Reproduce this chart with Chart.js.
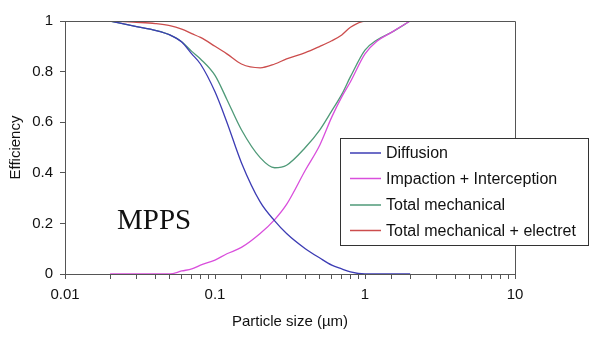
<!DOCTYPE html>
<html>
<head>
<meta charset="utf-8">
<script src="https://cdn.jsdelivr.net/npm/chart.js@4"></script>
<style>
  html, body { margin: 0; padding: 0; background: #fff; }
  #wrap { width: 600px; height: 342px; position: relative; }
</style>
</head>
<body>
<div id="wrap"><canvas id="mainChart" width="600" height="342"></canvas></div>
<script>
// particle diameters (µm)
const sizes = [0.02, 0.03, 0.04, 0.05, 0.06, 0.07, 0.08, 0.1, 0.12, 0.15, 0.2, 0.25, 0.3, 0.4, 0.5, 0.6, 0.7, 0.8, 1, 1.2, 1.5, 2];

const diffusion   = [1.0, 0.978, 0.963, 0.945, 0.917, 0.87, 0.83, 0.72, 0.60, 0.44, 0.285, 0.21, 0.16, 0.10, 0.063, 0.035, 0.02, 0.008, 0, 0, 0, 0];
const impaction   = [0, 0, 0, 0, 0.012, 0.02, 0.035, 0.055, 0.08, 0.105, 0.16, 0.215, 0.275, 0.41, 0.51, 0.62, 0.70, 0.76, 0.87, 0.92, 0.955, 1.0];
const mechanical  = [1.0, 0.978, 0.963, 0.945, 0.918, 0.88, 0.85, 0.785, 0.69, 0.57, 0.46, 0.42, 0.43, 0.50, 0.57, 0.645, 0.71, 0.78, 0.885, 0.925, 0.955, 1.0];
const electret    = [1.0, 0.995, 0.99, 0.982, 0.968, 0.95, 0.935, 0.90, 0.87, 0.83, 0.815, 0.83, 0.85, 0.875, 0.90, 0.922, 0.945, 0.975, 1.0, 1.0, 1.0, 1.0];

const seriesNames = ['Diffusion', 'Impaction + Interception', 'Total mechanical', 'Total mechanical + electret'];
const seriesColors = ['#3c3cb4', '#d94fdc', '#4f9a78', '#cc4d4d'];
const xTickLabels = ['0.01', '0.1', '1', '10'];
const yTickLabels = ['0', '0.2', '0.4', '0.6', '0.8', '1'];

const axisColor = '#555';
const textColor = '#111';
const sans = 'Arial, "Liberation Sans", sans-serif';

function toPoints(vals) {
    return sizes.map((d, i) => ({ x: d, y: vals[i] }));
}

const datasets = [diffusion, impaction, mechanical, electret].map((vals, i) => ({
    label: seriesNames[i],
    data: toPoints(vals),
    borderColor: seriesColors[i],
    backgroundColor: seriesColors[i],
    borderWidth: 1.3,
    pointRadius: 0,
    fill: false,
    cubicInterpolationMode: 'monotone'
}));

// box round the plot, MPPS label and the legend box
const decorPlugin = {
    id: 'decor',
    afterDraw(chart) {
        const { ctx, chartArea: a } = chart;
        ctx.save();
        ctx.strokeStyle = axisColor;
        ctx.lineWidth = 1;
        ctx.beginPath();
        ctx.moveTo(a.left, a.top + 0.5);
        ctx.lineTo(a.right + 0.5, a.top + 0.5);
        ctx.lineTo(a.right + 0.5, a.bottom);
        ctx.stroke();

        ctx.fillStyle = textColor;
        ctx.font = '29px "Liberation Serif", "Times New Roman", serif';
        ctx.textBaseline = 'alphabetic';
        ctx.textAlign = 'left';
        ctx.fillText('MPPS', 117, 229);

        // legend
        const bx = 340, by = 138, bw = 248, bh = 107;
        ctx.fillStyle = '#fff';
        ctx.fillRect(bx, by, bw, bh);
        ctx.strokeStyle = '#333';
        ctx.strokeRect(bx + 0.5, by + 0.5, bw, bh);
        ctx.font = '16px ' + sans;
        ctx.textBaseline = 'middle';
        const rows = [153, 178.5, 205, 230.5];
        chart.data.datasets.forEach((ds, i) => {
            ctx.strokeStyle = ds.borderColor;
            ctx.lineWidth = 1.5;
            ctx.beginPath();
            ctx.moveTo(350, rows[i]);
            ctx.lineTo(381, rows[i]);
            ctx.stroke();
            ctx.fillStyle = textColor;
            ctx.fillText(ds.label, 386, rows[i] + 1);
        });
        ctx.restore();
    }
};

const ctx = document.getElementById('mainChart').getContext('2d');
new Chart(ctx, {
    type: 'line',
    data: { datasets: datasets },
    options: {
        responsive: false,
        animation: false,
        layout: { padding: { top: 21, right: 85, left: 0, bottom: 0 } },
        plugins: {
            legend: { display: false },
            tooltip: { enabled: false }
        },
        scales: {
            x: {
                type: 'logarithmic',
                min: 0.01,
                max: 10,
                afterFit: s => { s.height = 68; },
                border: { display: true, color: axisColor, width: 1 },
                grid: { drawOnChartArea: false, drawTicks: true, tickLength: 5, color: axisColor },
                ticks: {
                    autoSkip: false,
                    maxRotation: 0,
                    padding: 7,
                    color: textColor,
                    font: { family: sans, size: 15 },
                    callback: v => {
                        const e = Math.log10(v);
                        if (Math.abs(e - Math.round(e)) < 1e-6) return xTickLabels[Math.round(e) + 2];
                        return '';
                    }
                },
                title: {
                    display: true,
                    text: 'Particle size (µm)',
                    color: textColor,
                    font: { family: sans, size: 15 },
                    padding: { top: 0, bottom: 11 }
                }
            },
            y: {
                min: 0,
                max: 1,
                afterFit: s => { s.width = 65; },
                border: { display: true, color: axisColor, width: 1 },
                grid: { drawOnChartArea: false, drawTicks: true, tickLength: 5, color: axisColor },
                ticks: {
                    stepSize: 0.2,
                    padding: 7,
                    color: textColor,
                    font: { family: sans, size: 15 },
                    callback: (v, i) => yTickLabels[i]
                },
                title: {
                    display: true,
                    text: 'Efficiency',
                    color: textColor,
                    font: { family: sans, size: 15 },
                    padding: { top: 7, bottom: 0 }
                }
            }
        }
    },
    plugins: [decorPlugin]
});
</script>
</body>
</html>
